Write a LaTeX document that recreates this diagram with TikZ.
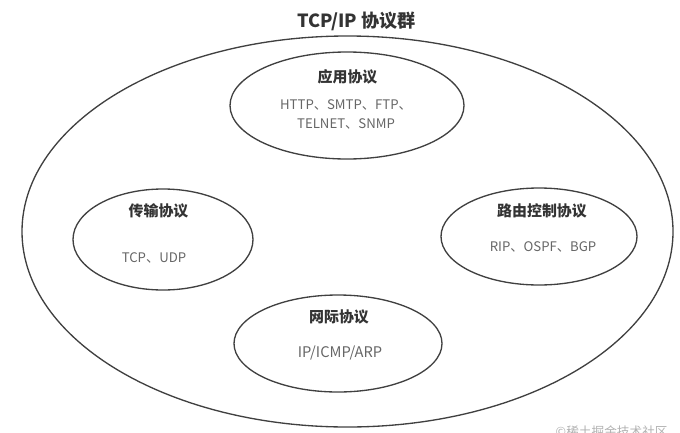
\documentclass[tikz,border=0pt]{standalone}
\usepackage{fontspec}
\setmainfont{Noto Sans CJK SC}
\usetikzlibrary{shapes.geometric}
\tikzset{
  px/.style={x=0.75pt,y=-0.75pt},
  oval/.style={draw=black!75,line width=1pt,ellipse,inner sep=0pt},
  head/.style={font=\bfseries\fontsize{11.2}{13}\selectfont,text=black!80},
  body/.style={font=\fontsize{9.9}{14.3}\selectfont,text=black!60,align=center}
}
\begin{document}
\begin{tikzpicture}[px]
\useasboundingbox (0,0) rectangle (680,432);
\node[oval,minimum width=488.25pt,minimum height=293.25pt] (outer) at (347.5,231.5) {};
\node[font=\bfseries\fontsize{13.6}{15}\selectfont,text=black!80] (title) at (356.5,21) {TCP/IP 协议群};
\node[oval,minimum width=175.5pt,minimum height=80.25pt] (app) at (347,105.5) {};
\node[oval,minimum width=135pt,minimum height=75.75pt] (trans) at (163,239.5) {};
\node[oval,minimum width=147pt,minimum height=72.75pt] (route) at (539,236.5) {};
\node[oval,minimum width=156pt,minimum height=72.75pt] (net) at (338,343.5) {};
\node[head] (apph) at (347.5,77) {应用协议};
\node[body] (appb) at (346,114.5) {HTTP、SMTP、FTP、\\TELNET、SNMP};
\node[head] (transh) at (158.5,211) {传输协议};
\node[body] (transb) at (154,258) {TCP、UDP};
\node[head] (routeh) at (542,211) {路由控制协议};
\node[body] (routeb) at (543,247) {RIP、OSPF、BGP};
\node[head] (neth) at (339,317) {网际协议};
\node[body,font=\fontsize{11}{13}\selectfont] (netb) at (340,353) {IP/ICMP/ARP};
\node[font=\fontsize{9.5}{11}\selectfont,text=black!30,anchor=west] (mark) at (551,431.5) {©稀土掘金技术社区};
\end{tikzpicture}
\end{document}
